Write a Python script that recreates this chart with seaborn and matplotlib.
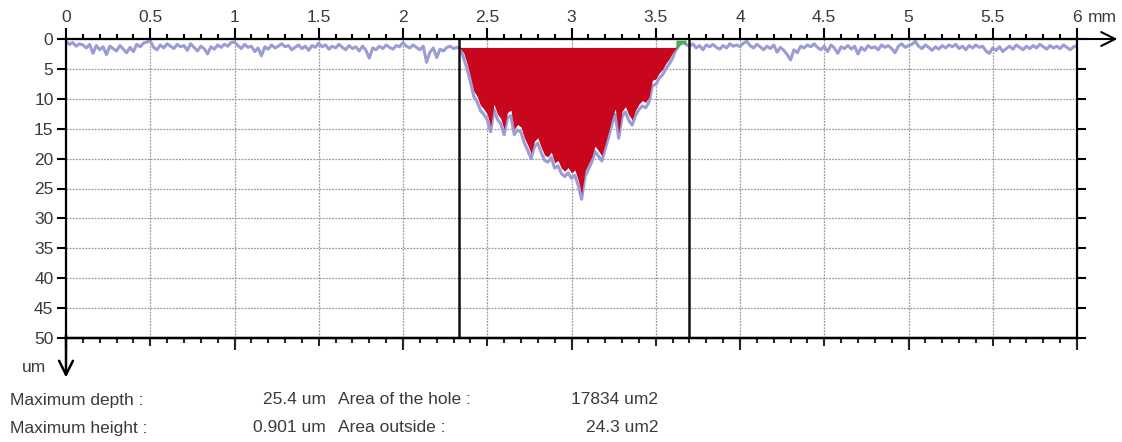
import numpy as np
import pandas as pd
import matplotlib
matplotlib.use("Agg")
import matplotlib.pyplot as plt
import matplotlib.transforms as mtransforms
import seaborn as sns

# ---------------- data ----------------
step_mm = 0.02
depth_left = [
    0.4, 0.9, 0.6, 1.2, 0.8, 1.0, 1.5, 0.9, 2.4, 1.1, 1.8, 1.3, 2.6, 1.2, 1.6, 2.0, 1.1, 1.7, 2.3, 1.4, 2.1, 0.9, 1.3, 0.7, 0.5,
    0.3, 1.4, 1.8, 1.0, 1.5, 0.8, 1.2, 1.6, 0.9, 1.3, 1.1, 1.9, 0.8, 1.4, 2.0, 1.2, 1.6, 2.5, 1.3, 1.7, 1.0, 1.4, 0.9, 1.2, 0.6,
    0.5, 1.1, 1.6, 0.9, 1.4, 1.2, 2.1, 1.5, 2.8, 1.3, 1.7, 1.0, 1.5, 1.2, 0.8, 1.3, 1.1, 1.8, 1.4, 1.0, 1.6, 1.2, 1.9, 1.1, 1.4,
    0.7, 1.3, 1.0, 1.7, 1.2, 1.5, 0.9, 1.4, 1.8, 1.1, 1.6, 1.3, 2.0, 1.2, 1.9, 3.2, 1.5, 1.8, 1.2, 1.6, 1.0, 1.4, 1.7, 1.1, 1.3,
    0.6, 1.2, 1.5, 1.0, 1.4, 1.8, 1.2, 3.9, 2.2, 1.5, 3.1, 1.7, 2.0, 1.4, 1.2, 1.6,
]
depth_hole = [
    1.4, 1.6, 3.2, 5.0, 7.2, 9.6, 10.5, 12.0, 12.6, 13.5,
    15.5, 11.8, 13.4, 14.2, 16.0, 13.2, 12.8, 16.0, 15.2, 15.6,
    17.4, 18.6, 20.0, 18.0, 17.4, 19.0, 20.3, 20.6, 19.8, 21.6,
    21.2, 22.5, 23.0, 22.4, 23.3, 22.8, 24.5, 26.8, 23.0, 21.8,
    20.6, 18.8, 19.6, 20.4, 18.4, 16.4, 14.2, 12.6, 16.6, 13.0,
    12.2, 13.6, 14.4, 12.8, 11.8, 11.2, 11.5, 10.6, 7.8, 7.6,
    6.6, 6.0, 5.0, 4.2, 3.2, 1.8, 1.0,
]
depth_right = [
    0.6, 0.9, 1.2, 0.8, 1.5, 1.1, 1.8, 1.0, 1.3, 0.9,
    1.4, 1.7, 1.1, 1.5, 0.8, 1.2, 1.0, 1.3, 0.7, 0.4,
    1.1, 1.5, 0.9, 1.3, 1.8, 1.2, 1.6, 1.0, 2.2, 1.4,
    1.9, 2.6, 3.5, 1.8, 2.3, 1.2, 1.5, 1.0, 1.3, 0.8,
    1.4, 1.8, 1.2, 2.1, 1.0, 1.5, 2.4, 1.3, 1.6, 1.1,
    1.7, 1.2, 2.5, 1.4, 1.9, 1.1, 1.5, 1.3, 1.8, 1.0,
    1.4, 1.1, 1.6, 2.3, 1.2, 0.8, 1.4, 1.1, 0.9, 0.4,
    1.2, 1.6, 1.0, 1.4, 1.9, 1.3, 1.7, 1.1, 1.5, 1.0,
    1.3, 0.9, 1.6, 1.2, 1.8, 1.1, 1.5, 1.0, 1.4, 1.2,
    2.0, 2.4, 1.5, 1.9, 1.3, 2.1, 1.6, 1.2, 1.7, 1.0,
    1.4, 1.8, 1.2, 1.6, 1.1, 1.5, 0.9, 1.3, 1.7, 1.1,
    1.5, 1.2, 1.6, 1.0, 1.4, 1.8, 1.3, 1.1,
]
depth_um = np.array(depth_left + depth_hole + depth_right)
position_mm = np.round(np.arange(len(depth_um)) * step_mm, 2)

hole_top_um = 1.55
hole_start_mm = 2.34
hole_end_mm = 3.62
green_start_mm = 3.63
green_end_mm = 3.68
cursor_mm = [2.33, 3.70]

x_ticklabels = ["0", "0.5", "1", "1.5", "2", "2.5", "3", "3.5", "4", "4.5", "5", "5.5", "6"]
y_ticklabels = ["0", "5", "10", "15", "20", "25", "30", "35", "40", "45", "50"]

result_labels_left = ["Maximum depth :", "Maximum height :"]
result_values_left = ["25.4 um", "0.901 um"]
result_labels_right = ["Area of the hole :", "Area outside :"]
result_values_right = ["17834 um2", "24.3 um2"]

# ---------------- style ----------------
sns.set_style("white")
plt.rcParams["font.family"] = ["Liberation Sans", "DejaVu Sans"]
TXT = "#3a3a3a"
FS = 12.5

W, H = 1122, 442
fig = plt.figure(figsize=(W / 100, H / 100), dpi=100)
ax = fig.add_axes([66 / W, 1 - 338 / H, (1077 - 66) / W, (338 - 39) / H])

df = pd.DataFrame({"x": position_mm, "depth": depth_um})
sns.lineplot(data=df, x="x", y="depth", ax=ax, color="#9b9bd6", lw=2.2,
             estimator=None, sort=False, zorder=3)

# red hole area
inside = (position_mm >= hole_start_mm) & (position_mm <= hole_end_mm)
lower = np.maximum(depth_um - 0.9, hole_top_um)
ax.fill_between(position_mm, hole_top_um, lower, where=inside & (depth_um > hole_top_um),
                interpolate=True, color="#c8061e", lw=0, zorder=4)
ax.plot([hole_start_mm, hole_end_mm], [hole_top_um, hole_top_um], color="#c8061e", lw=0.8, zorder=4)
# green small area
g = (position_mm >= green_start_mm - 0.01) & (position_mm <= green_end_mm)
ax.fill_between(position_mm, 0.2, depth_um, where=g, color="#3cb34a", lw=0, zorder=5)

# cursors
for cx in cursor_mm:
    ax.axvline(cx, color="#111111", lw=1.8, zorder=6)

ax.set_xlim(0, 6)
ax.set_ylim(50, 0)
ax.set_xlabel("")
ax.set_ylabel("")

# grid
ax.set_xticks(np.arange(len(x_ticklabels)) * 0.5)
ax.set_yticks(np.arange(len(y_ticklabels)) * 5)
ax.grid(True, which="major", color="#9a9a9a", lw=0.9, ls=(0, (1.5, 1.0)), zorder=1)

# spines
for s in ax.spines.values():
    s.set_linewidth(1.6)
    s.set_color("black")
    s.set_zorder(7)

# top axis ticks/labels
ax.xaxis.set_ticks_position("top")
ax.xaxis.set_label_position("top")
ax.set_xticklabels(x_ticklabels, fontsize=FS, color=TXT)
ax.set_xticks(np.arange(0, 6.001, 0.1), minor=True)
ax.tick_params(axis="x", which="major", direction="out", length=8, width=1.5,
               pad=2.0, top=True, bottom=False, labeltop=True, labelbottom=False, colors="black",
               labelcolor=TXT)
ax.tick_params(axis="x", which="minor", direction="out", length=3.6, width=1.5,
               top=True, bottom=False, colors="black")
mm_trans = mtransforms.offset_copy(
    mtransforms.blended_transform_factory(ax.transData, ax.transAxes), fig=fig, x=0, y=10.0, units="points")
ax.text(6.065, 1.0, "mm", transform=mm_trans, fontsize=FS, color=TXT, ha="left", va="bottom")

# y ticks
ax.set_yticklabels(y_ticklabels, fontsize=FS, color=TXT)
ax.tick_params(axis="y", which="major", direction="out", length=6.5, width=1.5, pad=2.5,
               left=True, right=True, labelleft=True, labelright=False, colors="black",
               labelcolor=TXT)

# bottom ticks (two secondary axes for three tick levels)
sec1 = ax.secondary_xaxis("bottom")
sec1.set_xticks(np.arange(0, 6.001, 0.5))
sec1.set_xticks(np.arange(0, 6.001, 0.1), minor=True)
sec1.tick_params(which="major", length=6, width=1.5, labelbottom=False)
sec1.tick_params(which="minor", length=3.6, width=1.5)
sec1.spines["bottom"].set_linewidth(1.6)
sec2 = ax.secondary_xaxis("bottom")
sec2.set_xticks(np.arange(0, 6.001, 1.0))
sec2.tick_params(which="major", length=8.8, width=1.5, labelbottom=False)
sec2.spines["bottom"].set_linewidth(1.6)

# axis arrows
ax.annotate("", xy=(6.24, 0), xytext=(5.95, 0), xycoords="data",
            arrowprops=dict(arrowstyle="->,head_length=1.0,head_width=0.5", lw=1.5, color="black",
                            shrinkA=0, shrinkB=0), annotation_clip=False)
ax.annotate("", xy=(0, 56.6), xytext=(0, 49.5), xycoords="data",
            arrowprops=dict(arrowstyle="->,head_length=1.0,head_width=0.5", lw=1.8, color="black",
                            shrinkA=0, shrinkB=0), annotation_clip=False)
ax.text(-0.12, 55.0, "um", fontsize=FS, color=TXT, ha="right", va="center", clip_on=False)

# results text
rows_y = [400, 428]
for i, yy in enumerate(rows_y):
    fy = 1 - yy / H
    fig.text(10 / W, fy, result_labels_left[i], fontsize=FS, color=TXT, ha="left", va="center")
    fig.text(326 / W, fy, result_values_left[i], fontsize=FS, color=TXT, ha="right", va="center")
    fig.text(338 / W, fy, result_labels_right[i], fontsize=FS, color=TXT, ha="left", va="center")
    fig.text(658 / W, fy, result_values_right[i], fontsize=FS, color=TXT, ha="right", va="center")

fig.savefig("out.png", dpi=100)
